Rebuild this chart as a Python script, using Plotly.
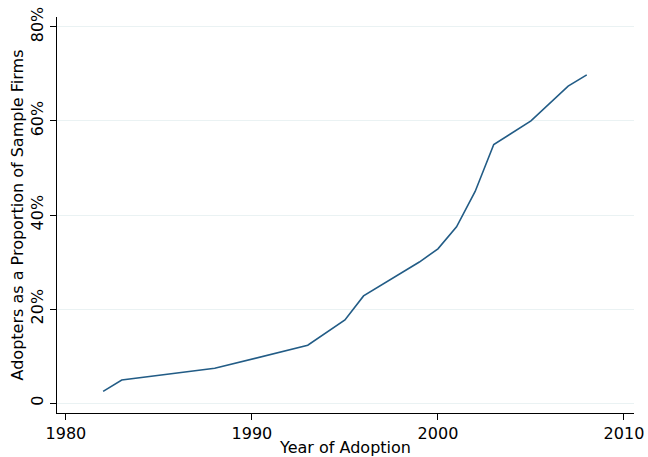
import plotly.graph_objects as go

# Cumulative share of sample firms that had adopted, by year
years = [1982, 1983, 1988, 1993, 1995, 1996, 1999, 2000, 2001, 2002, 2003, 2005, 2007, 2008]
share_pct = [2.5, 4.9, 7.4, 12.3, 17.7, 22.8, 30.0, 32.8, 37.5, 45.0, 55.0, 60.0, 67.4, 69.8]

x_ticks = [1980, 1990, 2000, 2010]
y_ticks = [0, 20, 40, 60, 80]
y_tick_labels = ["0", "20%", "40%", "60%", "80%"]

font_family = "DejaVu Sans, Verdana, sans-serif"

fig = go.Figure(
    go.Scatter(
        x=years,
        y=share_pct,
        mode="lines",
        line=dict(color="#225c86", width=1.6),
        hoverinfo="x+y",
    )
)

fig.update_layout(
    width=648,
    height=457,
    margin=dict(l=57, r=14, t=17, b=44),
    paper_bgcolor="white",
    plot_bgcolor="white",
    showlegend=False,
    font=dict(family=font_family, size=16, color="black"),
)

fig.update_xaxes(
    range=[1979.52, 2010.54],
    tickvals=x_ticks,
    ticks="outside",
    ticklen=6,
    tickwidth=1.3,
    tickcolor="black",
    showline=True,
    linecolor="black",
    linewidth=1.3,
    showgrid=False,
    zeroline=False,
    automargin=False,
    tickfont=dict(size=16),
    title=dict(text="Year of Adoption", font=dict(size=16), standoff=0),
)

fig.update_yaxes(
    range=[-2.1, 82.1],
    tickvals=y_ticks,
    ticktext=y_tick_labels,
    tickangle=-90,
    ticks="outside",
    ticklen=6,
    tickwidth=1.3,
    tickcolor="black",
    showline=True,
    linecolor="black",
    linewidth=1.3,
    showgrid=True,
    gridcolor="#eaf2f3",
    gridwidth=1,
    zeroline=False,
    automargin=False,
    tickfont=dict(size=16),
    title=dict(text="Adopters as a Proportion of Sample Firms", font=dict(size=16), standoff=0),
)

fig.write_html("out.html")
